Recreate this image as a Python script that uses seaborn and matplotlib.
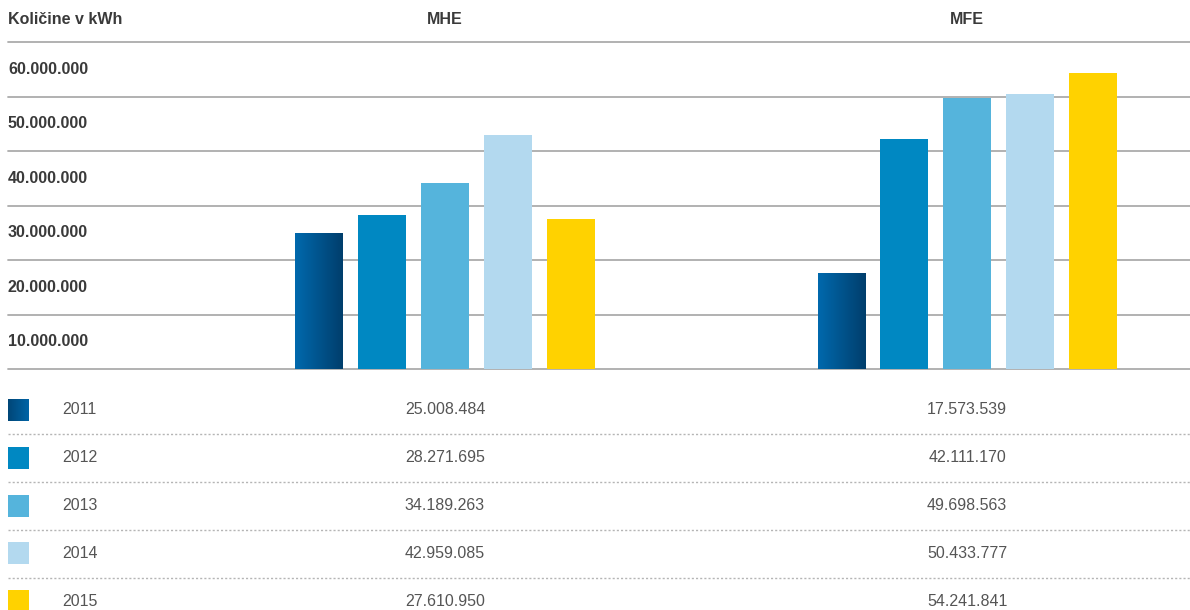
import matplotlib
matplotlib.use("Agg")
import matplotlib.pyplot as plt
import matplotlib.transforms as mtransforms
from matplotlib.colors import LinearSegmentedColormap
from matplotlib.patches import Rectangle
import numpy as np
import pandas as pd
import seaborn as sns

# data
plants = ["MHE", "MFE"]
years = ["2011", "2012", "2013", "2014", "2015"]
mhe_values = [25008484, 28271695, 34189263, 42959085, 27610950]
mfe_values = [17573539, 42111170, 49698563, 50433777, 54241841]
y_labels = ["10.000.000", "20.000.000", "30.000.000", "40.000.000", "50.000.000", "60.000.000"]
year_colors = ["#00548f", "#0088c2", "#55b4dc", "#b3d9ef", "#ffd200"]

df = pd.DataFrame({
    "plant": ["MHE"] * 5 + ["MFE"] * 5,
    "year": years * 2,
    "value": mhe_values + mfe_values,
})

sns.set_style("white")
plt.rcParams["font.family"] = ["Liberation Sans", "DejaVu Sans"]

W, H = 1190, 610
XLIM = (-0.837, 1.427)
fig = plt.figure(figsize=(W / 100, H / 100), dpi=100)

# chart area: px 8..1190 horizontally, 42..369 vertically
ax = fig.add_axes([8 / W, 1 - 369 / H, (W - 8) / W, (369 - 42) / H])
sns.barplot(data=df, x="plant", y="value", hue="year", order=plants, hue_order=years,
            palette=year_colors, saturation=1, width=0.603, gap=0.25, legend=False,
            linewidth=0, ax=ax)
ax.set_axis_off()

grid_color = "#ababab"
for k in range(7):
    ax.axhline(k * 10_000_000, color=grid_color, lw=1.3, zorder=0, clip_on=False)

# gradient on the 2011 bars
bar_cmap = LinearSegmentedColormap.from_list("b2011", ["#0069ad", "#003e6c"])
grad = np.linspace(0, 1, 256).reshape(1, -1)
for bar in ax.containers[0]:
    x0, y0 = bar.get_x(), bar.get_y()
    w, h = bar.get_width(), bar.get_height()
    im = ax.imshow(grad, cmap=bar_cmap, aspect="auto", extent=[x0, x0 + w, y0, y0 + h], zorder=2)
    im.set_clip_path(bar)
    bar.set_facecolor("none")
    bar.set_edgecolor("none")
ax.set_xlim(*XLIM)
ax.set_ylim(0, 60_000_000)

text_dark = "#3a3a3a"
fs = 11.5
blend = mtransforms.blended_transform_factory(ax.transAxes, ax.transData)
for k, lab in enumerate(y_labels):
    ax.text(0, (k + 0.5) * 10_000_000, lab, transform=blend, ha="left", va="center",
            fontsize=fs, fontweight="bold", color=text_dark)

head_tr = mtransforms.blended_transform_factory(ax.transData, ax.transAxes)
head_y = (369 - 20) / (369 - 42)
ax.text(0, head_y, "Količine v kWh", transform=ax.transAxes, ha="left", va="center",
        fontsize=fs, fontweight="bold", color=text_dark)
for i, p in enumerate(plants):
    ax.text(i, head_y, p, transform=head_tr, ha="center", va="center",
            fontsize=fs, fontweight="bold", color=text_dark)

# table area below the chart
tab = fig.add_axes([8 / W, 0, (W - 8) / W, 1 - 380 / H])
tab.set_axis_off()
tab_tr = mtransforms.blended_transform_factory(tab.transAxes, tab.transData)
px = 1 / (W - 8)

sq_cmap = LinearSegmentedColormap.from_list("s2011", ["#004677", "#0064a6"])
for i, yr in enumerate(years):
    ry = 410 + 47.8 * i
    if i == 0:
        sq = Rectangle((0, ry - 11), 21 * px, 22, transform=tab_tr, facecolor="none", edgecolor="none")
        tab.add_patch(sq)
        x_left = XLIM[0]
        x_right = XLIM[0] + 21 * px * (XLIM[1] - XLIM[0])
        im = tab.imshow(grad, cmap=sq_cmap, aspect="auto", extent=[x_left, x_right, ry + 11, ry - 11],
                        zorder=2)
        im.set_clip_path(sq)
    else:
        tab.add_patch(Rectangle((0, ry - 11), 21 * px, 22, transform=tab_tr,
                                facecolor=year_colors[i], edgecolor="none", clip_on=False))
    tab.text(54 * px, ry, yr, transform=tab_tr, ha="left", va="center", fontsize=fs, color="#555555")
    for j, vals in enumerate([mhe_values, mfe_values]):
        tab.text(j, ry, f"{vals[i]:,}".replace(",", "."), ha="center", va="center",
                 fontsize=fs, color="#555555")
    if i < len(years) - 1:
        tab.axhline(ry + 24.5, color="#b5b5b5", lw=1, ls=(0, (1.5, 1.5)))

tab.set_xlim(*XLIM)
tab.set_ylim(610, 380)

fig.savefig("out.png", dpi=100)
